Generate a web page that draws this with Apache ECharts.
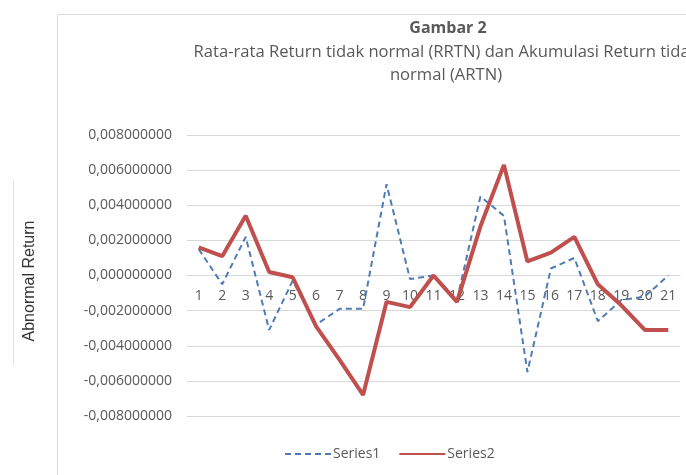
<!DOCTYPE html>
<html>
<head>
<meta charset="utf-8">
<script src="https://cdn.jsdelivr.net/npm/echarts@6/dist/echarts.min.js"></script>
<style>
  html, body { margin: 0; padding: 0; background: #fff; }
  #chart { width: 686px; height: 475px; }
</style>
</head>
<body>
<div id="chart"></div>
<script>
// hari ke-1 .. ke-21
const days = ['1', '2', '3', '4', '5', '6', '7', '8', '9', '10', '11', '12', '13', '14', '15', '16', '17', '18', '19', '20', '21'];
// RRTN (garis putus-putus)
const series1 = [0.0015, -0.0005, 0.0022, -0.0031, -0.0003, -0.0028, -0.0019, -0.0019, 0.0052, -0.0002,
  0.0000, -0.0014, 0.0045, 0.0034, -0.0055, 0.0004, 0.0010, -0.0026, -0.0014, -0.0012, 0.0000];
// ARTN (garis tebal)
const series2 = [0.0016, 0.0011, 0.0034, 0.0002, -0.0001, -0.0029, -0.0048, -0.0068, -0.0015, -0.0018,
  0.0000, -0.0015, 0.0028, 0.0063, 0.0008, 0.0013, 0.0022, -0.0005, -0.0017, -0.0031, -0.0031];
const yTicks = { min: -0.008, max: 0.008, step: 0.002 };

const chart = echarts.init(document.getElementById('chart'));

// tinggi plot: 475 - 135 - 59 = 281, sumbu x diletakkan di nilai 0 (tengah)
const plotH = 475 - 135 - 59;

const option = {
  animation: false,
  title: [
    {
      text: 'Gambar 2',
      left: 443, top: 15, textAlign: 'center',
      textStyle: { fontFamily: 'Open Sans', fontSize: 16, fontWeight: 'bold', color: '#595959' }
    },
    {
      text: 'Rata-rata Return tidak normal (RRTN) dan Akumulasi Return tidak\nnormal (ARTN)',
      left: 441, top: 36, textAlign: 'center',
      textStyle: { fontFamily: 'Open Sans', fontSize: 16.6, fontWeight: 'normal', color: '#595959', lineHeight: 23, align: 'center' }
    }
  ],
  graphic: [
    // kotak area grafik
    { type: 'rect', shape: { x: 57.5, y: 14.5, width: 700, height: 500 }, style: { fill: 'none', stroke: '#d9d9d9', lineWidth: 1 }, z: -1 },
    { type: 'line', shape: { x1: 13.5, y1: 180, x2: 13.5, y2: 365 }, style: { stroke: '#e3e3e3', lineWidth: 1 } },
    {
      type: 'text', x: 30, y: 281, rotation: Math.PI / 2,
      style: { text: 'Abnormal Return', font: '16px "Liberation Sans"', fill: '#333', align: 'center', verticalAlign: 'middle' }
    }
  ],
  grid: { left: 187, right: 6, top: 135, bottom: 59 },
  legend: {
    bottom: 9, left: 279, itemGap: 18, itemWidth: 46, itemHeight: 10,
    itemStyle: { opacity: 0 },
    textStyle: { fontFamily: 'Open Sans', fontSize: 14, color: '#595959', padding: [0, 0, 0, -3] },
    data: ['Series1', 'Series2']
  },
  xAxis: {
    type: 'category',
    data: days,
    boundaryGap: true,
    offset: -plotH / 2,
    axisLine: { onZero: false, lineStyle: { color: '#d9d9d9' } },
    axisTick: { show: false },
    axisLabel: { fontFamily: 'Open Sans', fontSize: 14, color: '#595959', margin: 14, interval: 0 }
  },
  yAxis: {
    type: 'value',
    min: yTicks.min, max: yTicks.max, interval: yTicks.step,
    axisLine: { show: false },
    axisTick: { show: false },
    splitLine: { lineStyle: { color: '#d9d9d9', width: 1 } },
    axisLabel: {
      fontFamily: 'Open Sans', fontSize: 14, color: '#595959', margin: 15,
      formatter: v => (Math.abs(v) < 1e-12 ? 0 : v).toFixed(9).replace('.', ',')
    }
  },
  series: [
    {
      name: 'Series1', type: 'line', data: series1, symbol: 'none',
      itemStyle: { color: '#4f7cb5' },
      lineStyle: { color: '#4f7cb5', width: 2, type: [6, 4] }
    },
    {
      name: 'Series2', type: 'line', data: series2, symbol: 'none',
      itemStyle: { color: '#c0504d' },
      lineStyle: { color: '#c0504d', width: 4 }
    }
  ]
};

chart.setOption(option);
</script>
</body>
</html>
